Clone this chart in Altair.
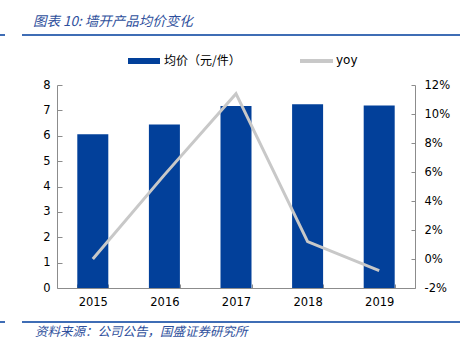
import altair as alt
import pandas as pd

years = ["2015", "2016", "2017", "2018", "2019"]
price = [6.06, 6.44, 7.17, 7.24, 7.19]
yoy = [0.0, 5.8, 11.4, 1.2, -0.8]
left_ticks = [0, 1, 2, 3, 4, 5, 6, 7, 8]
right_ticks = [-2, 0, 2, 4, 6, 8, 10, 12]

title_text = "图表 10:  墙开产品均价变化"
source_text = "资料来源：公司公告，国盛证券研究所"
legend_bar = "均价（元/件）"
legend_line = "yoy"

BLUE = "#02409A"
GRAY = "#C8C8C8"
AXIS = "#8C8C8C"
DECO = "#3F6DB5"
TXT_BLUE = "#2E4F9C"
W, H = 358, 203

df = pd.DataFrame({"year": years, "price": price, "yoy": yoy})

x_enc = alt.X(
    "year:N",
    sort=years,
    scale=alt.Scale(paddingInner=0.567, paddingOuter=0.2835),
    axis=alt.Axis(
        title=None, labelAngle=0, tickBand="extent", tickSize={"expr": "-4"},
        labelPadding=12, domainColor=AXIS, tickColor=AXIS,
    ),
)

bars = alt.Chart(df).mark_bar(color=BLUE).encode(
    x=x_enc,
    y=alt.Y(
        "price:Q",
        scale=alt.Scale(domain=[0, 8], nice=False),
        axis=alt.Axis(
            title=None, orient="left", values=left_ticks, tickSize={"expr": "-5"},
            labelPadding=12, domainColor=AXIS, tickColor=AXIS, grid=False,
        ),
    ),
)

line = alt.Chart(df).mark_line(color=GRAY, strokeWidth=3).encode(
    x=alt.X("year:N", sort=years),
    y=alt.Y(
        "yoy:Q",
        scale=alt.Scale(domain=[-2, 12], nice=False),
        axis=alt.Axis(
            title=None, orient="right", values=right_ticks, tickSize={"expr": "-4"},
            labelPadding=13, labelExpr="datum.value + '%'",
            domainColor=AXIS, tickColor=AXIS, grid=False,
        ),
    ),
)

def rule(x1, x2, y, color=DECO, w=2):
    return alt.Chart(df).mark_rule(color=color, strokeWidth=w).encode(
        x=alt.value(x1), x2=alt.value(x2), y=alt.value(y)
    )

def text(t, x, y, size, color, font, italic=False, align="left"):
    kw = dict(font=font, fontSize=size, color=color, align=align, baseline="middle")
    if italic:
        kw["fontStyle"] = "italic"
    return alt.Chart(pd.DataFrame({"t": [t]})).mark_text(**kw).encode(
        x=alt.value(x), y=alt.value(y), text="t:N"
    )

deco = [
    rule(-35, 403, -50),
    rule(-57, -52, -50),
    rule(-35, 403, 237),
    rule(-57, -52, 237),
    text(title_text, -24, -63, 13.5, TXT_BLUE, "Noto Sans CJK SC", italic=True),
    text(source_text, -22, 247, 12.5, TXT_BLUE, "Noto Sans CJK SC", italic=True),
    alt.Chart(df).mark_rect(color=BLUE).encode(
        x=alt.value(71), x2=alt.value(103), y=alt.value(-27), y2=alt.value(-21)
    ),
    text(legend_bar, 107, -24, 12, "#000000", "Noto Sans CJK SC"),
    rule(243, 276, -24, color=GRAY, w=3),
    text(legend_line, 279, -25, 12, "#000000", "DejaVu Sans"),
]

chart = alt.layer(bars, line, *deco).resolve_scale(y="independent").properties(
    width=W, height=H,
    autosize=alt.AutoSizeParams(type="none"),
    padding={"left": 57, "top": 85, "right": 48, "bottom": 66},
).configure_view(stroke=None).configure_axis(
    labelFont="DejaVu Sans", labelFontSize=11.5, labelColor="#000000",
)

chart.save("out.html", embed_options={"renderer": "svg", "actions": False})
